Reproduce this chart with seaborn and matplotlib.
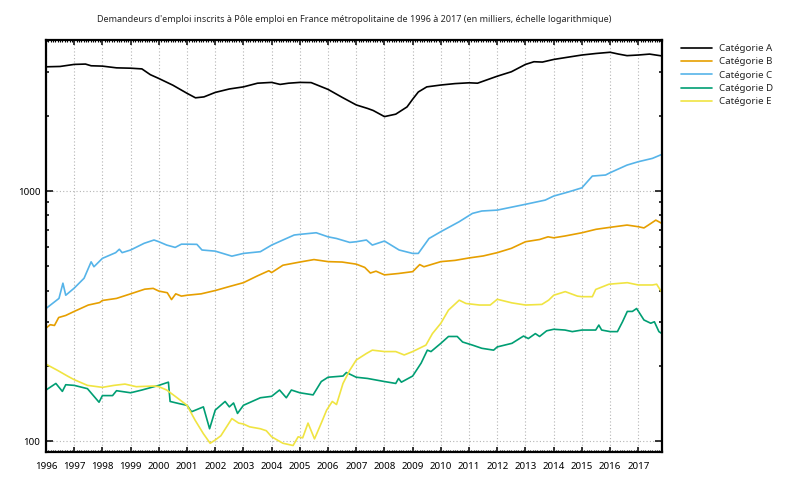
import matplotlib
matplotlib.use('Agg')
import matplotlib.pyplot as plt
import matplotlib.ticker as mticker
import seaborn as sns
import pandas as pd

sns.set_style('ticks')
plt.rcParams['font.family'] = ['Noto Sans', 'DejaVu Sans']

titre = "Demandeurs d'emploi inscrits à Pôle emploi en France métropolitaine de 1996 à 2017 (en milliers, échelle logarithmique)"
categories = ['Catégorie A', 'Catégorie B', 'Catégorie C', 'Catégorie D', 'Catégorie E']
couleurs = ['#000000', '#E69F00', '#56B4E9', '#009E73', '#F0E442']
annees_ticks = list(range(1996, 2018))

# valeurs (en milliers)
annees_a = [1996.0, 1996.5, 1997.0, 1997.4, 1997.6, 1998.0, 1998.5, 1999.0, 1999.4, 1999.7,
            2000.0, 2000.5, 2001.0, 2001.3, 2001.6, 2002.0, 2002.5, 2003.0, 2003.5, 2004.0,
            2004.3, 2004.6, 2005.0, 2005.4, 2006.0, 2006.5, 2007.0, 2007.4, 2007.6, 2008.0,
            2008.4, 2008.8, 2009.0, 2009.2, 2009.5, 2010.0, 2010.5, 2011.0, 2011.3, 2012.0,
            2012.5, 2013.0, 2013.3, 2013.6, 2014.0, 2014.5, 2015.0, 2015.5, 2016.0, 2016.3,
            2016.6, 2017.0, 2017.4, 2017.84]
valeurs_a = [3140, 3150, 3210, 3220, 3170, 3160, 3110, 3100, 3080, 2920,
             2820, 2650, 2460, 2360, 2380, 2480, 2560, 2610, 2700, 2720,
             2670, 2700, 2720, 2715, 2550, 2370, 2210, 2140, 2100, 1985,
             2030, 2170, 2330, 2490, 2610, 2655, 2690, 2710, 2700, 2880,
             3000, 3210, 3290, 3280, 3360, 3430, 3500, 3550, 3590, 3530,
             3480, 3500, 3530, 3470]

annees_b = [1996.0, 1996.15, 1996.3, 1996.45, 1996.7, 1997.0, 1997.5, 1997.9, 1998.0, 1998.5,
            1999.0, 1999.5, 1999.8, 2000.0, 2000.3, 2000.45, 2000.6, 2000.8, 2001.0, 2001.5,
            2002.0, 2002.5, 2003.0, 2003.5, 2003.9, 2004.0, 2004.4, 2005.0, 2005.5, 2006.0,
            2006.5, 2007.0, 2007.3, 2007.5, 2007.7, 2008.0, 2008.5, 2009.0, 2009.25, 2009.4,
            2010.0, 2010.5, 2011.0, 2011.5, 2012.0, 2012.5, 2013.0, 2013.5, 2013.8, 2014.0,
            2014.4, 2015.0, 2015.5, 2016.0, 2016.6, 2017.0, 2017.2, 2017.35, 2017.62, 2017.84]
valeurs_b = [283, 292, 290, 312, 318, 330, 350, 358, 365, 372,
             388, 405, 408, 398, 392, 368, 388, 380, 383, 388,
             400, 415, 430, 458, 480, 472, 505, 520, 532, 522,
             520, 510, 495, 470, 478, 462, 468, 476, 508, 498,
             522, 528, 540, 550, 567, 590, 627, 640, 656, 650,
             661, 681, 703, 716, 731, 720, 712, 730, 765, 742]

annees_c = [1996.0, 1996.46, 1996.6, 1996.7, 1997.0, 1997.35, 1997.6, 1997.7, 1998.0, 1998.47,
            1998.6, 1998.7, 1999.0, 1999.48, 1999.83, 2000.0, 2000.28, 2000.58, 2000.8, 2001.0,
            2001.35, 2001.53, 2002.0, 2002.59, 2003.0, 2003.6, 2004.0, 2004.4, 2004.8, 2005.0,
            2005.58, 2006.0, 2006.3, 2006.77, 2007.0, 2007.36, 2007.57, 2008.0, 2008.52, 2009.0,
            2009.2, 2009.58, 2010.0, 2010.65, 2011.12, 2011.45, 2012.0, 2013.0, 2013.7, 2014.0,
            2014.5, 2015.0, 2015.37, 2015.84, 2016.0, 2016.6, 2017.0, 2017.5, 2017.84]
valeurs_c = [339, 372, 428, 383, 409, 448, 521, 498, 538, 567,
             585, 567, 581, 618, 637, 627, 608, 595, 613, 613,
             612, 581, 575, 549, 563, 572, 608, 637, 667, 671,
             681, 656, 646, 623, 627, 637, 608, 631, 581, 563,
             563, 646, 688, 754, 814, 832, 839, 885, 920, 955,
             990, 1030, 1148, 1159, 1184, 1270, 1310, 1351, 1402]

annees_d = [1996.0, 1996.35, 1996.58, 1996.7, 1997.0, 1997.47, 1997.88, 1998.0, 1998.36, 1998.5,
            1999.0, 1999.4, 1999.83, 2000.0, 2000.34, 2000.4, 2000.74, 2001.0, 2001.16, 2001.58,
            2001.8, 2002.0, 2002.35, 2002.5, 2002.65, 2002.79, 2003.0, 2003.6, 2004.0, 2004.28,
            2004.52, 2004.7, 2005.0, 2005.47, 2005.76, 2006.0, 2006.53, 2006.65, 2007.0, 2007.4,
            2008.0, 2008.4, 2008.5, 2008.6, 2009.0, 2009.3, 2009.52, 2009.65, 2010.0, 2010.27,
            2010.58, 2010.77, 2011.12, 2011.45, 2011.87, 2012.0, 2012.52, 2012.93, 2013.1, 2013.35,
            2013.5, 2013.75, 2014.0, 2014.4, 2014.66, 2015.0, 2015.49, 2015.6, 2015.7, 2016.0,
            2016.26, 2016.44, 2016.61, 2016.79, 2016.94, 2017.2, 2017.44, 2017.57, 2017.73, 2017.84]
valeurs_d = [160, 170, 158, 168, 167, 162, 143, 152, 152, 159,
             156, 160, 165, 167, 172, 144, 141, 139, 131, 137,
             112, 133, 144, 137, 142, 129, 139, 149, 151, 160,
             149, 160, 156, 153, 173, 180, 182, 188, 180, 178,
             173, 170, 178, 172, 182, 205, 231, 228, 246, 262,
             262, 249, 242, 235, 231, 238, 246, 263, 257, 269,
             262, 276, 280, 278, 274, 278, 278, 291, 278, 274,
             274, 300, 330, 330, 339, 305, 296, 300, 274, 269]

annees_e = [1996.0, 1996.4, 1996.76, 1997.0, 1997.47, 1998.0, 1998.41, 1998.8, 1999.2, 1999.83,
            2000.0, 2000.28, 2000.58, 2001.0, 2001.29, 2001.58, 2001.82, 2002.0, 2002.2, 2002.59,
            2002.83, 2003.0, 2003.22, 2003.6, 2003.81, 2004.0, 2004.4, 2004.76, 2004.94, 2005.1,
            2005.29, 2005.52, 2005.76, 2005.95, 2006.15, 2006.3, 2006.53, 2006.77, 2007.0, 2007.36,
            2007.57, 2008.0, 2008.4, 2008.7, 2009.0, 2009.47, 2009.7, 2010.0, 2010.27, 2010.65,
            2010.89, 2011.37, 2011.75, 2012.0, 2012.52, 2013.0, 2013.58, 2013.82, 2014.0, 2014.41,
            2014.84, 2015.0, 2015.37, 2015.49, 2015.96, 2016.61, 2017.0, 2017.5, 2017.65, 2017.84]
valeurs_e = [203, 192, 182, 176, 167, 164, 167, 169, 165, 166,
             165, 160, 151, 139, 121, 107, 98, 101, 105, 123,
             118, 117, 114, 112, 110, 104, 98, 96, 104, 103,
             118, 102, 118, 133, 144, 140, 170, 192, 211, 224,
             231, 228, 228, 221, 228, 242, 269, 296, 334, 366,
             355, 350, 350, 369, 357, 350, 352, 366, 383, 396,
             380, 378, 378, 404, 424, 430, 421, 421, 424, 392]

rows = []
series = [(annees_a, valeurs_a), (annees_b, valeurs_b), (annees_c, valeurs_c),
          (annees_d, valeurs_d), (annees_e, valeurs_e)]
for cat, (xs, ys) in zip(categories, series):
    for x, y in zip(xs, ys):
        rows.append({'annee': x, 'valeur': y, 'categorie': cat})
df = pd.DataFrame(rows)

fig = plt.figure(figsize=(8, 4.8), dpi=100)
ax = fig.add_axes([0.0575, 0.0583, 0.77, 0.8583])
sns.lineplot(data=df, x='annee', y='valeur', hue='categorie', hue_order=categories,
             palette=couleurs, linewidth=1.2, estimator=None, ax=ax)

ax.set_yscale('log')
ax.set_xlim(1996, 2017.84)
ax.set_ylim(90.4, 4018)
ax.set_xlabel('')
ax.set_ylabel('')

ax.yaxis.set_major_locator(mticker.FixedLocator([100, 1000]))
ax.yaxis.set_major_formatter(mticker.FixedFormatter(['100', '1000']))
ax.yaxis.set_minor_locator(mticker.LogLocator(base=10, subs=[2, 3, 4, 5, 6, 7, 8, 9]))
ax.yaxis.set_minor_formatter(mticker.NullFormatter())
ax.xaxis.set_major_locator(mticker.FixedLocator(annees_ticks))
ax.xaxis.set_major_formatter(mticker.FixedFormatter([str(a) for a in annees_ticks]))
ax.xaxis.set_minor_locator(mticker.MultipleLocator(1 / 12))

ax.tick_params(which='both', direction='in', top=True, right=True, width=1.1, colors='black', labelsize=7)
ax.tick_params(axis='y', which='major', length=5, pad=4)
ax.tick_params(axis='y', which='minor', length=2.5)
ax.tick_params(axis='x', which='major', length=3.5, pad=7)
ax.tick_params(axis='x', which='minor', length=1.5, width=0.8)

for s in ax.spines.values():
    s.set_visible(True)
    s.set_linewidth(1.6)
    s.set_color('black')

ax.grid(which='major', color='#b5b5b5', linestyle=(0, (1, 2)), linewidth=0.8)

ax.legend(loc='upper left', bbox_to_anchor=(1.024, 1.0), borderaxespad=0, frameon=False,
          fontsize=7, handlelength=3.2, handletextpad=0.7, labelspacing=0.45)

fig.text(0.4425, 1 - 19 / 480, titre, ha='center', va='center', fontsize=6.5)

plt.savefig('out.png', dpi=100)
plt.close()
